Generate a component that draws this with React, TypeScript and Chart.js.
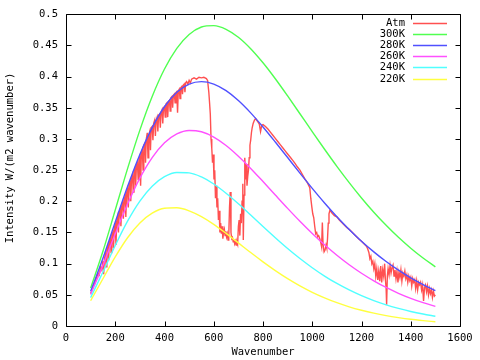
import React, { useEffect, useRef } from "react";
import { Chart, registerables } from "chart.js";

Chart.register(...registerables);

// ---- Data ----
const planckWavenumbers = [
  100, 150, 200, 250, 300, 350, 400, 450, 500, 550, 600, 650, 700, 750, 800,
  850, 900, 950, 1000, 1050, 1100, 1150, 1200, 1250, 1300, 1350, 1400, 1450, 1500,
];
const k300 = [
  0.0608, 0.1199, 0.186, 0.2524, 0.3142, 0.3681, 0.4122, 0.4454, 0.4677, 0.4796,
  0.4819, 0.476, 0.4632, 0.4448, 0.4222, 0.3966, 0.369, 0.3405, 0.3118, 0.2835,
  0.2561, 0.23, 0.2054, 0.1825, 0.1615, 0.1422, 0.1247, 0.109, 0.0949,
];
const k280 = [
  0.0557, 0.1087, 0.1668, 0.2237, 0.2752, 0.3183, 0.3517, 0.3748, 0.388, 0.392,
  0.3881, 0.3775, 0.3617, 0.3419, 0.3193, 0.2951, 0.2702, 0.2452, 0.2208, 0.1974,
  0.1754, 0.1549, 0.136, 0.1189, 0.1034, 0.0895, 0.0772, 0.0663, 0.0568,
];
const k260 = [
  0.0506, 0.0976, 0.1479, 0.1956, 0.2372, 0.2702, 0.2939, 0.3082, 0.3137, 0.3116,
  0.3031, 0.2896, 0.2724, 0.2528, 0.2317, 0.2101, 0.1887, 0.168, 0.1484, 0.1302,
  0.1134, 0.0982, 0.0846, 0.0725, 0.0618, 0.0525, 0.0444, 0.0374, 0.0314,
];
const k240 = [
  0.0456, 0.0866, 0.1292, 0.1682, 0.2004, 0.2243, 0.2395, 0.2463, 0.2457, 0.2391,
  0.2278, 0.213, 0.1961, 0.178, 0.1596, 0.1416, 0.1243, 0.1082, 0.0935, 0.0801,
  0.0682, 0.0578, 0.0486, 0.0407, 0.0339, 0.0282, 0.0233, 0.0192, 0.0157,
];
const k220 = [
  0.0405, 0.0758, 0.1109, 0.1416, 0.1653, 0.181, 0.1889, 0.1897, 0.1848, 0.1754,
  0.163, 0.1486, 0.1333, 0.1178, 0.1029, 0.0889, 0.076, 0.0644, 0.0541, 0.0452,
  0.0374, 0.0308, 0.0253, 0.0206, 0.0167, 0.0135, 0.0108, 0.0087, 0.0069,
];

const atmWavenumbers = [
  100, 105, 110, 115, 120, 125, 130, 135, 140, 145, 150, 153, 156, 160, 163, 166, 170, 173, 176, 180,
  183, 186, 190, 193, 196, 200, 203, 206, 210, 213, 216, 220, 223, 226, 230, 233, 236, 240, 243, 246,
  250, 253, 256, 260, 263, 266, 270, 273, 276, 280, 283, 286, 290, 293, 296, 300, 303, 306, 310, 313,
  316, 320, 323, 326, 330, 333, 336, 340, 343, 346, 350, 353, 356, 360, 363, 366, 370, 373, 376, 380,
  383, 386, 390, 393, 396, 400, 403, 406, 410, 413, 416, 420, 423, 426, 430, 433, 436, 440, 443, 446,
  450, 453, 456, 460, 463, 466, 470, 473, 476, 480, 483, 486, 490, 495, 500, 505, 510, 520, 530, 540,
  550, 560, 570, 575, 580, 583, 586, 589, 592, 595, 598, 601, 604, 607, 610, 613, 616, 619, 622, 625,
  628, 631, 634, 637, 640, 643, 646, 649, 652, 655, 658, 661, 664, 667, 670, 673, 676, 679, 682, 685,
  688, 691, 694, 697, 700, 703, 706, 709, 712, 715, 718, 720, 723, 726, 729, 732, 735, 738, 741, 744,
  747, 750, 753, 756, 760, 765, 770, 775, 780, 785, 790, 795, 800, 810, 820, 830, 840, 850, 860, 870,
  880, 890, 900, 910, 920, 930, 940, 950, 960, 970, 980, 990, 994, 998, 1002, 1006, 1010, 1014, 1018, 1022,
  1026, 1030, 1034, 1038, 1041, 1044, 1048, 1052, 1056, 1059, 1062, 1065, 1068, 1072, 1080, 1090, 1100, 1110, 1120, 1130,
  1140, 1150, 1160, 1170, 1180, 1190, 1200, 1210, 1220, 1225, 1230, 1234, 1238, 1242, 1246, 1250, 1254, 1258, 1262, 1266,
  1270, 1274, 1278, 1282, 1286, 1290, 1294, 1297, 1300, 1302, 1305, 1308, 1312, 1316, 1320, 1324, 1328, 1332, 1336, 1340,
  1344, 1348, 1352, 1356, 1360, 1364, 1368, 1372, 1376, 1380, 1384, 1388, 1392, 1396, 1400, 1404, 1408, 1412, 1416, 1420,
  1424, 1428, 1432, 1436, 1440, 1444, 1448, 1452, 1456, 1460, 1464, 1468, 1472, 1476, 1480, 1484, 1488, 1492, 1496, 1500,
];
const atmValues = [
  0.052, 0.057, 0.064, 0.066, 0.074, 0.078, 0.085, 0.082, 0.095, 0.09, 0.104, 0.083, 0.108, 0.115, 0.095, 0.122, 0.128, 0.105, 0.134, 0.14,
  0.118, 0.146, 0.15, 0.125, 0.158, 0.163, 0.13, 0.168, 0.176, 0.15, 0.182, 0.187, 0.16, 0.192, 0.198, 0.172, 0.202, 0.208, 0.175, 0.214,
  0.22, 0.19, 0.226, 0.231, 0.2, 0.236, 0.242, 0.215, 0.246, 0.252, 0.225, 0.258, 0.262, 0.235, 0.266, 0.272, 0.225, 0.276, 0.282, 0.25,
  0.29, 0.293, 0.262, 0.3, 0.31, 0.27, 0.306, 0.312, 0.282, 0.318, 0.32, 0.298, 0.325, 0.33, 0.305, 0.33, 0.335, 0.312, 0.338, 0.34,
  0.318, 0.343, 0.347, 0.325, 0.35, 0.352, 0.335, 0.356, 0.358, 0.335, 0.36, 0.362, 0.345, 0.366, 0.368, 0.35, 0.37, 0.372, 0.358, 0.374,
  0.376, 0.342, 0.377, 0.38, 0.365, 0.382, 0.384, 0.372, 0.386, 0.388, 0.375, 0.39, 0.392, 0.388, 0.394, 0.39, 0.396, 0.398, 0.396, 0.399,
  0.398, 0.399, 0.397, 0.394, 0.375, 0.358, 0.34, 0.3, 0.285, 0.262, 0.275, 0.235, 0.25, 0.205, 0.225, 0.19, 0.205, 0.17, 0.185, 0.15,
  0.165, 0.148, 0.16, 0.14, 0.15, 0.155, 0.145, 0.152, 0.143, 0.148, 0.138, 0.145, 0.19, 0.215, 0.15, 0.14, 0.142, 0.135, 0.138, 0.132,
  0.136, 0.13, 0.135, 0.131, 0.16, 0.17, 0.145, 0.18, 0.165, 0.2, 0.228, 0.138, 0.21, 0.27, 0.235, 0.26, 0.225, 0.24, 0.25, 0.27,
  0.29, 0.298, 0.31, 0.318, 0.325, 0.33, 0.333, 0.33, 0.327, 0.324, 0.312, 0.322, 0.323, 0.32, 0.316, 0.311, 0.306, 0.301, 0.296, 0.291,
  0.286, 0.281, 0.276, 0.271, 0.266, 0.261, 0.255, 0.25, 0.243, 0.236, 0.23, 0.222, 0.205, 0.192, 0.18, 0.174, 0.16, 0.148, 0.15, 0.143,
  0.145, 0.141, 0.135, 0.127, 0.166, 0.13, 0.119, 0.122, 0.13, 0.125, 0.14, 0.165, 0.18, 0.186, 0.181, 0.177, 0.175, 0.17, 0.166, 0.162,
  0.158, 0.155, 0.151, 0.147, 0.143, 0.139, 0.136, 0.132, 0.128, 0.124, 0.118, 0.108, 0.112, 0.1, 0.104, 0.092, 0.1, 0.08, 0.092, 0.074,
  0.088, 0.072, 0.096, 0.07, 0.09, 0.08, 0.1, 0.075, 0.06, 0.034, 0.08, 0.092, 0.082, 0.097, 0.085, 0.094, 0.098, 0.08, 0.09, 0.076,
  0.088, 0.07, 0.086, 0.078, 0.09, 0.072, 0.085, 0.08, 0.088, 0.076, 0.082, 0.07, 0.08, 0.073, 0.078, 0.064, 0.076, 0.07, 0.074, 0.06,
  0.072, 0.058, 0.07, 0.066, 0.07, 0.058, 0.066, 0.04, 0.062, 0.066, 0.055, 0.064, 0.05, 0.06, 0.052, 0.058, 0.046, 0.056, 0.048, 0.05,
];

const seriesLabels = ["Atm", "300K", "280K", "260K", "240K", "220K"];
const seriesColors = ["#ff5050", "#50ff50", "#5050ff", "#ff50ff", "#50ffff", "#ffff40"];

const xTicks = [0, 200, 400, 600, 800, 1000, 1200, 1400, 1600];
const yTicks = [0, 0.05, 0.1, 0.15, 0.2, 0.25, 0.3, 0.35, 0.4, 0.45, 0.5];

const FONT = "'DejaVu Sans Mono', monospace";
const FONT_SIZE = 10.5;
const LINE_W = 1.4;

const toPoints = (xs: number[], ys: number[]) => xs.map((x, i) => ({ x, y: ys[i] }));

const gnuplotFrame = {
  id: "gnuplotFrame",
  afterDatasetsDraw(chart: any) {
    const { ctx, chartArea: a, scales } = chart;
    const xs = scales.x;
    const ys = scales.y;
    ctx.save();
    ctx.strokeStyle = "#000";
    ctx.lineWidth = 1;
    const L = Math.round(a.left) + 0.5;
    const R = Math.round(a.right) + 0.5;
    const T = Math.round(a.top) + 0.5;
    const B = Math.round(a.bottom) + 0.5;
    ctx.beginPath();
    ctx.rect(L, T, R - L, B - T);
    const tl = 5;
    xTicks.forEach((v) => {
      const px = Math.round(xs.getPixelForValue(v)) + 0.5;
      ctx.moveTo(px, B);
      ctx.lineTo(px, B - tl);
      ctx.moveTo(px, T);
      ctx.lineTo(px, T + tl);
    });
    yTicks.forEach((v) => {
      const py = Math.round(ys.getPixelForValue(v)) + 0.5;
      ctx.moveTo(L, py);
      ctx.lineTo(L + tl, py);
      ctx.moveTo(R, py);
      ctx.lineTo(R - tl, py);
    });
    ctx.stroke();

    // legend
    ctx.font = `${FONT_SIZE}px ${FONT}`;
    ctx.fillStyle = "#000";
    ctx.textAlign = "right";
    ctx.textBaseline = "middle";
    ctx.lineWidth = LINE_W;
    chart.data.datasets.forEach((ds: any, i: number) => {
      const yy = Math.round(23 + i * 11.1) + 0.5;
      ctx.fillText(ds.label, 405, yy);
      ctx.beginPath();
      ctx.strokeStyle = ds.borderColor;
      ctx.moveTo(413, yy);
      ctx.lineTo(447, yy);
      ctx.stroke();
    });

    // y axis title
    ctx.translate(10, 158);
    ctx.rotate(-Math.PI / 2);
    ctx.textAlign = "center";
    ctx.textBaseline = "middle";
    ctx.fillStyle = "#000";
    ctx.fillText("Intensity W/(m2 wavenumber)", 0, 0);
    ctx.restore();
  },
};

export default function App() {
  const ref = useRef<HTMLCanvasElement | null>(null);
  useEffect(() => {
    if (!ref.current) return;
    const series = [atmValues, k300, k280, k260, k240, k220];
    const chart = new Chart(ref.current, {
      type: "line",
      data: {
        datasets: series.map((vals, i) => ({
          label: seriesLabels[i],
          data: i === 0 ? toPoints(atmWavenumbers, vals) : toPoints(planckWavenumbers, vals),
          borderColor: seriesColors[i],
          backgroundColor: seriesColors[i],
          borderWidth: LINE_W,
          pointRadius: 0,
          fill: false,
          tension: 0,
          cubicInterpolationMode: i === 0 ? "default" : "monotone",
          order: 6 - i,
        })),
      },
      options: {
        animation: false,
        responsive: false,
        devicePixelRatio: 1,
        layout: { padding: { left: 0, right: 20, top: 14, bottom: 0 } },
        plugins: { legend: { display: false }, tooltip: { enabled: false } },
        scales: {
          x: {
            type: "linear",
            min: 0,
            max: 1600,
            afterBuildTicks: (s: any) => {
              s.ticks = xTicks.map((v) => ({ value: v }));
            },
            afterFit: (s: any) => {
              s.height = 34;
            },
            grid: { display: false, drawTicks: false },
            border: { display: false },
            ticks: {
              color: "#000",
              padding: 6,
              maxRotation: 0,
              autoSkip: false,
              font: { family: FONT, size: FONT_SIZE },
              callback: (v: any) => String(v),
            },
            title: {
              display: true,
              text: "Wavenumber",
              color: "#000",
              padding: { top: 0, bottom: 1 },
              font: { family: FONT, size: FONT_SIZE },
            },
          },
          y: {
            type: "linear",
            min: 0,
            max: 0.5,
            afterBuildTicks: (s: any) => {
              s.ticks = yTicks.map((v) => ({ value: v }));
            },
            afterFit: (s: any) => {
              s.width = 66;
            },
            grid: { display: false, drawTicks: false },
            border: { display: false },
            ticks: {
              color: "#000",
              padding: 8,
              autoSkip: false,
              font: { family: FONT, size: FONT_SIZE },
              callback: (v: any) => String(Math.round(v * 100) / 100),
            },
          },
        },
      },
      plugins: [gnuplotFrame],
    });
    return () => chart.destroy();
  }, []);
  return (
    <div style={{ position: "fixed", left: 0, top: 0, width: 480, height: 360, background: "#fff" }}>
      <canvas ref={ref} width={480} height={360} style={{ display: "block" }} />
    </div>
  );
}
